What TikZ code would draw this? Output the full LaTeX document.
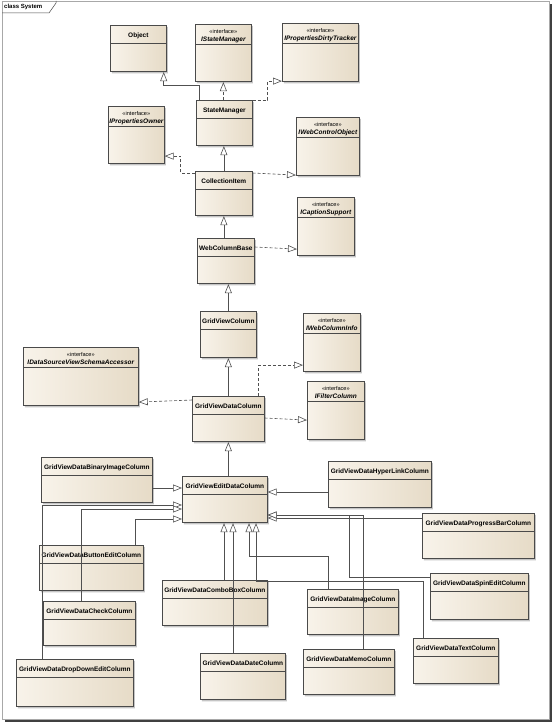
\documentclass[tikz,border=0pt]{standalone}
\usepackage{fontspec}
\setmainfont{Liberation Sans}
\usetikzlibrary{shapes.multipart,shadows,arrows.meta,calc}

\definecolor{boxlight}{HTML}{F8F3EA}
\definecolor{boxdark}{HTML}{E6DBC7}
\definecolor{boxline}{HTML}{4A4A4A}
\definecolor{linegray}{HTML}{505050}
\definecolor{framegray}{HTML}{A8A8A8}

\newcommand{\boxfont}{\fontsize{6.5}{7.5}\selectfont\bfseries}
% class box: name, position, width, title, body height
\newcommand{\umlclass}[5]{%
  \node[classbox, text width=#3pt] (#1) at (#2)
    {\rule[-5pt]{0pt}{17pt}#4\nodepart{two}\rule{0pt}{#5pt}};}
% interface box
\newcommand{\umliface}[5]{%
  \node[classbox, text width=#3pt] (#1) at (#2)
    {\rule{0pt}{9pt}{\fontsize{5.6}{6}\selectfont\mdseries «interface»}\\\rule[-2.5pt]{0pt}{0pt}\itshape #4\nodepart{two}\rule{0pt}{#5pt}};}

\tikzset{
  classbox/.style={rectangle split, rectangle split parts=2, draw=boxline,
    line width=0.7pt, left color=boxlight, right color=boxdark,
    drop shadow={shadow xshift=1.5pt, shadow yshift=-1.5pt, fill=black!45},
    inner xsep=0pt, inner ysep=0pt, anchor=north west, align=center,
    font=\boxfont},
  gen/.style={draw=linegray, line width=0.6pt,
    -{Triangle[length=9pt,width=7pt,fill=white]}},
  impl/.style={gen, dash pattern=on 3pt off 2pt},
}

\begin{document}
\begin{tikzpicture}[x=1pt,y=-1pt]
  \useasboundingbox (0,0) rectangle (554,725);
  % frame
  \fill[black!75] (5,4) rectangle (552,722);
  \draw[framegray, fill=white, line width=0.8pt] (2,1) rectangle (549,719);
  \draw[boxline, line width=0.5pt] (2,13) -- (49,13) -- (56,3) -- (56,1);
  \node[font=\fontsize{6}{7}\selectfont\bfseries, anchor=west, inner sep=0pt]
    (diagramtitle) at (4,7) {class System};

  % upper hierarchy
  \umlclass{obj}{110,25}{56}{Object}{28}
  \umliface{ism}{195,24}{56}{IStateManager}{37}
  \umliface{ipdt}{282,23}{76}{IPropertiesDirtyTracker}{38}
  \umlclass{stm}{196,100}{56}{StateManager}{27}
  \umliface{ipo}{108,106}{56}{IPropertiesOwner}{37}
  \umliface{iwco}{296,117}{63}{IWebControlObject}{38}
  \umlclass{coll}{195,171}{57}{CollectionItem}{26}
  \umliface{ics}{297,197}{57}{ICaptionSupport}{38}
  \umlclass{wcb}{197,238}{57}{WebColumnBase}{27}
  \umlclass{gvc}{200,311}{56}{GridViewColumn}{28}
  \umliface{iwci}{303,313}{57}{IWebColumnInfo}{38}
  \umliface{idsv}{23,347}{115}{IDataSourceViewSchemaAccessor}{38}
  \umliface{ifc}{307,381}{57}{IFilterColumn}{38}
  \umlclass{gvdc}{192,396}{72}{GridViewDataColumn}{27}

  % edit columns
  \umlclass{gvedc}{182,476}{85}{GridViewEditDataColumn}{28}
  \umlclass{binimg}{41,457}{111}{GridViewDataBinaryImageColumn}{27}
  \umlclass{hyper}{328,461}{103}{GridViewDataHyperLinkColumn}{28}
  \umlclass{progress}{422,513}{112}{GridViewDataProgressBarColumn}{27}
  \umlclass{button}{39,545}{104}{GridViewDataButtonEditColumn}{27}
  \umlclass{spin}{430,573}{98}{GridViewDataSpinEditColumn}{28}
  \umlclass{combo}{162,580}{105}{GridViewDataComboBoxColumn}{27}
  \umlclass{imagecol}{307,589}{91}{GridViewDataImageColumn}{27}
  \umlclass{check}{43,601}{92}{GridViewDataCheckColumn}{26}
  \umlclass{textcol}{413,638}{85}{GridViewDataTextColumn}{27}
  \umlclass{memo}{303,649}{91}{GridViewDataMemoColumn}{27}
  \umlclass{date}{200,653}{85}{GridViewDataDateColumn}{28}
  \umlclass{dropdown}{16,659}{117}{GridViewDataDropDownEditColumn}{29}

  \begin{scope}[gen]
    \draw ($(stm.north west)+(3,0)$) -- ++(0,-15) -| ($(obj.south east)+(-3,0)$);
    \draw (coll.north) -- (coll.north |- stm.south);
    \draw (wcb.north -| coll.south) -- (coll.south);
    \draw (gvc.north) -- (gvc.north |- wcb.south);
    \draw (gvdc.north) -- (gvdc.north |- gvc.south);
    \draw (gvedc.north -| gvdc.south) -- (gvdc.south);
  \end{scope}

  \begin{scope}[impl]
    \draw (stm.north -| ism.south) -- (ism.south);
    \draw (stm.north east) -- ++(15,0) |- ($(ipdt.south west)+(0,-1)$);
    \draw ($(coll.north west)+(0,2)$) -| ($(ipo.south east)+(16,-8)$) -- ($(ipo.south east)+(0,-8)$);
    \draw ($(coll.north east)+(0,2)$) -- ($(iwco.south west)+(0,-1)$);
    \draw ($(wcb.north east)+(0,9)$) -- ($(ics.south west)+(0,-7)$);
    \draw ($(gvdc.north east)+(-6,0)$) |- ($(iwci.south west)+(0,-7)$);
    \draw ($(gvdc.north west)+(0,4)$) -- ($(idsv.south east)+(0,-4)$);
    \draw ($(gvdc.north east)+(0,22)$) -- ($(ifc.south west)+(0,-20)$);
  \end{scope}

  \begin{scope}[gen]
    \draw ($(binimg.north east)+(0,31)$) -- ($(gvedc.north west)+(0,12)$);
    \draw ($(dropdown.north west)+(26,0)$) |- ($(gvedc.north west)+(0,29)$);
    \draw ($(check.north west)+(38,0)$) |- ($(gvedc.north west)+(0,33)$);
    \draw ($(button.north west)+(96,0)$) |- ($(gvedc.north west)+(0,43)$);
    \draw ($(hyper.north west)+(0,31)$) -- ($(gvedc.north east)+(0,16)$);
    \draw ($(progress.north west)+(0,5)$) -- ($(gvedc.north east)+(0,42)$);
    \draw ($(spin.north west)+(0,4)$) -| ($(gvedc.north east)+(82,39)$) -- ($(gvedc.north east)+(0,39)$);
    \draw ($(memo.north west)+(60,0)$) |- ($(gvedc.north east)+(0,39)$);
    \draw ($(combo.north west)+(62,0)$) -- ($(gvedc.south west)+(42,0)$);
    \draw ($(date.north west)+(33,0)$) -- ($(gvedc.south west)+(51,0)$);
    \draw ($(imagecol.north west)+(21,0)$) |- ($(gvedc.south west)+(67,33)$) -- ($(gvedc.south west)+(67,0)$);
    \draw ($(textcol.north west)+(10,0)$) |- ($(gvedc.south west)+(74,58)$) -- ($(gvedc.south west)+(74,0)$);
  \end{scope}
\end{tikzpicture}
\end{document}
